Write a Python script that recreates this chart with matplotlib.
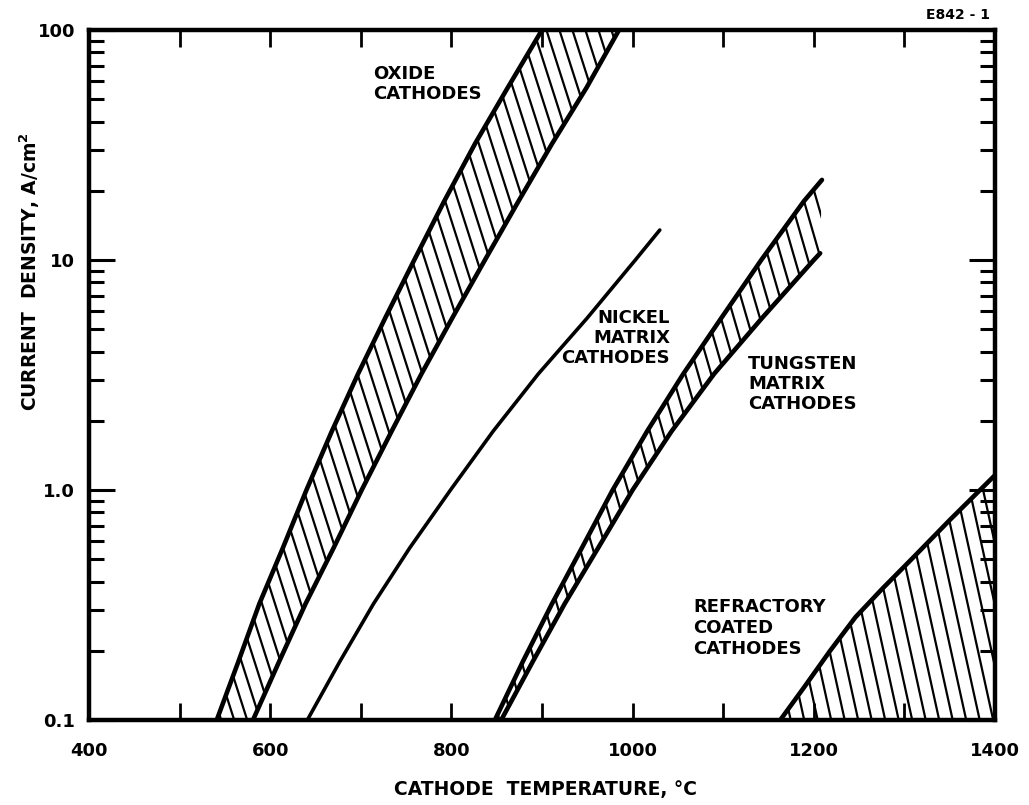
import numpy as np
import matplotlib
matplotlib.use("Agg")
import matplotlib.pyplot as plt
from matplotlib.patches import Polygon
from matplotlib.lines import Line2D
from matplotlib.ticker import FixedLocator, NullFormatter

# ---------------- data ----------------
oxide_upper_T = [541, 565, 588, 614, 640, 668, 697, 727, 759, 792, 826, 862, 900]
oxide_upper_J = [0.1, 0.18, 0.32, 0.56, 1.0, 1.8, 3.2, 5.6, 10, 18, 32, 56, 100]
oxide_lower_T = [581, 610, 639, 670, 701, 734, 767, 801, 837, 874, 911, 949, 985]
oxide_lower_J = [0.1, 0.18, 0.32, 0.56, 1.0, 1.8, 3.2, 5.6, 10, 18, 32, 56, 100]

nickel_T = [641, 677, 714, 754, 799, 846, 896, 950, 1003, 1030]
nickel_J = [0.1, 0.18, 0.32, 0.56, 1.0, 1.8, 3.2, 5.6, 10, 13.5]

tungsten_upper_T = [848, 879, 911, 944, 978, 1016, 1056, 1098, 1142, 1189, 1209]
tungsten_upper_J = [0.1, 0.18, 0.32, 0.56, 1.0, 1.8, 3.2, 5.6, 10, 18, 22.3]
tungsten_lower_T = [855, 890, 925, 962, 1000, 1043, 1090, 1143, 1200, 1207]
tungsten_lower_J = [0.1, 0.18, 0.32, 0.56, 1.0, 1.8, 3.2, 5.6, 10, 10.7]

refractory_upper_T = [1163, 1190, 1218, 1246, 1275, 1310, 1350, 1400]
refractory_upper_J = [0.1, 0.14, 0.2, 0.28, 0.37, 0.51, 0.74, 1.16]
refractory_lower_T = [1163, 1400]
refractory_lower_J = [0.1, 0.1]

x_ticks = [400, 500, 600, 700, 800, 900, 1000, 1100, 1200, 1300, 1400]
x_tick_labels = ["400", "", "600", "", "800", "", "1000", "", "1200", "", "1400"]
y_ticks = [0.1, 1, 10, 100]
y_tick_labels = ["0.1", "1.0", "10", "100"]

labels = {
    "oxide": "OXIDE\nCATHODES",
    "nickel": "NICKEL\nMATRIX\nCATHODES",
    "tungsten": "TUNGSTEN\nMATRIX\nCATHODES",
    "refractory": "REFRACTORY\nCOATED\nCATHODES",
}
x_title = "CATHODE  TEMPERATURE, \u00b0C"
y_title = "CURRENT  DENSITY, A/cm$^\\mathbf{2}$"
fig_id = "E842 - 1"

# ---------------- figure ----------------
W, H = 1029, 805
fig = plt.figure(figsize=(W / 100, H / 100), dpi=100)
ax = fig.add_axes([89 / W, 1 - 720 / H, (995 - 89) / W, (720 - 30) / H])
ax.set_yscale("log")
ax.set_xlim(400, 1400)
ax.set_ylim(0.1, 100)

FONT = dict(family="DejaVu Sans", weight="bold", color="black")
edge_lw = 3.3
hatch_lw = 1.6


def band(upper_T, upper_J, lower_T, lower_J, slope, spacing_px, draw_lower=True):
    verts = list(zip(upper_T, upper_J)) + list(zip(lower_T[::-1], lower_J[::-1]))
    poly = Polygon(verts, closed=True, facecolor="none", edgecolor="none",
                   transform=ax.transData)
    ax.add_patch(poly)
    sp = spacing_px / 906.0
    dx = slope * 690.0 / 906.0
    for c in np.arange(-0.6, 1.2, sp):
        ln = Line2D([c, c + dx], [1.0, 0.0], transform=ax.transAxes,
                    color="black", lw=hatch_lw, solid_capstyle="butt")
        ln.set_clip_path(poly)
        ax.add_line(ln)
    ax.plot(upper_T, upper_J, color="black", lw=edge_lw, solid_capstyle="round")
    if draw_lower:
        ax.plot(lower_T, lower_J, color="black", lw=edge_lw, solid_capstyle="round")


band(oxide_upper_T, oxide_upper_J, oxide_lower_T, oxide_lower_J, 0.32, 13)
band(tungsten_upper_T, tungsten_upper_J, tungsten_lower_T, tungsten_lower_J, 0.29, 13)
band(refractory_upper_T, refractory_upper_J, refractory_lower_T, refractory_lower_J,
     0.22, 13.5, draw_lower=False)

ax.plot(nickel_T, nickel_J, color="black", lw=2.6, solid_capstyle="round")

# ---------------- axes styling ----------------
for s in ax.spines.values():
    s.set_linewidth(3.2)

ax.xaxis.set_major_locator(FixedLocator(x_ticks))
ax.set_xticklabels(x_tick_labels)
ax.yaxis.set_major_locator(FixedLocator(y_ticks))
ax.set_yticklabels(y_tick_labels)
minor = [m * 10.0 ** e for e in (-1, 0, 1) for m in range(2, 10)]
ax.yaxis.set_minor_locator(FixedLocator(minor))
ax.yaxis.set_minor_formatter(NullFormatter())
ax.xaxis.set_minor_locator(FixedLocator([]))

ax.tick_params(axis="x", which="major", direction="in", length=12, width=2,
               top=True, bottom=True, pad=16, labelsize=13)
ax.tick_params(axis="y", which="major", direction="in", length=19, width=2.2,
               left=True, right=True, pad=10, labelsize=13)
ax.tick_params(axis="y", which="minor", direction="in", length=11, width=2.2,
               left=True, right=True)
for lab in ax.get_xticklabels() + ax.get_yticklabels():
    lab.set_fontweight("bold")
    lab.set_family("DejaVu Sans")


def px(x, y):
    return (x / W, 1 - y / H)


fig.text(*px(545, 789), x_title, fontsize=13.5, ha="center", va="center", **FONT)
fig.text(*px(30, 272), y_title, fontsize=13.5, ha="center", va="center",
         rotation=90, **FONT)

# ---------------- annotations ----------------
fs = 13
fig.text(*px(373, 84), labels["oxide"], fontsize=fs, ha="left", va="center",
         linespacing=1.15, **FONT)
fig.text(*px(670, 338), labels["nickel"], fontsize=fs, ha="right", va="center",
         linespacing=1.15, multialignment="right", **FONT)
fig.text(*px(748, 384), labels["tungsten"], fontsize=fs, ha="left", va="center",
         linespacing=1.15, **FONT)
fig.text(*px(693, 628), labels["refractory"], fontsize=fs, ha="left", va="center",
         linespacing=1.2, **FONT)
fig.text(*px(990, 15), fig_id, fontsize=10, ha="right", va="center", **FONT)

fig.savefig("out.png", dpi=100)
